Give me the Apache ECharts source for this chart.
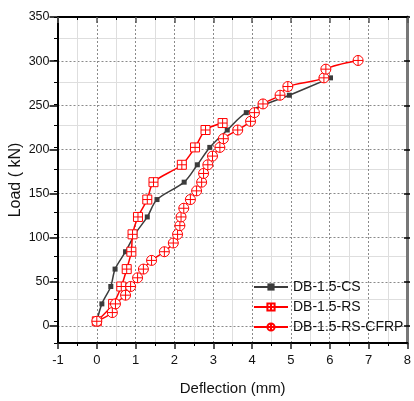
<!DOCTYPE html>
<html><head><meta charset="utf-8">
<script src="https://cdn.jsdelivr.net/npm/echarts@6/dist/echarts.min.js"></script>
<style>html,body{margin:0;padding:0;background:#fff}#c{width:414px;height:401px}</style>
</head><body><div id="c"></div>
<script>
var csX = [0, 0.13, 0.36, 0.47, 0.74, 0.98, 1.30, 1.55, 2.25, 2.59, 2.91, 3.36, 3.85, 4.96, 6.02];
var csY = [0, 20, 40, 60, 80, 100, 120, 140, 160, 180, 200, 220, 240, 260, 280];
var rsX = [0, 0.42, 0.63, 0.77, 0.89, 0.92, 1.06, 1.30, 1.46, 2.19, 2.53, 2.80, 3.24];
var rsY = [0, 20, 40, 60, 80, 100, 120, 140, 160, 180, 200, 220, 228];
var cfX = [0, 0.40, 0.48, 0.74, 0.87, 1.05, 1.20, 1.41, 1.74, 1.97, 2.08, 2.14, 2.17, 2.24, 2.41, 2.57, 2.70, 2.75, 2.86, 2.98, 3.17, 3.26, 3.63, 3.96, 4.06, 4.28, 4.72, 4.92, 5.85, 5.90, 6.73];
var cfY = [0, 10, 20, 30, 40, 50, 60, 70, 80, 90, 100, 110, 120, 130, 140, 150, 160, 170, 180, 190, 200, 210, 220, 230, 240, 250, 260, 270, 280, 290, 300];
var names = ['DB-1.5-CS', 'DB-1.5-RS', 'DB-1.5-RS-CFRP'];

function pairs(xs, ys) { return xs.map(function (x, i) { return [x, ys[i]]; }); }
var sqPlus = 'path://M0 0H10V10H0Z M5 0V10 M0 5H10';
var cirPlus = 'path://M0 5A5 5 0 1 1 10 5A5 5 0 1 1 0 5Z M5 0V10 M0 5H10';
var font = 'Liberation Sans';
var chart = echarts.init(document.getElementById('c'), null, {renderer: 'canvas'});
var majorGrid = {show: true, lineStyle: {color: '#8a8a8a', type: [2, 2], width: 1}};
var minorGrid = {show: true, lineStyle: {color: '#dedede', type: 'solid', width: 1}};
chart.setOption({
  animation: false,
  textStyle: {fontFamily: font},
  grid: [
    {left: 57.5, right: 4, top: 17, bottom: 52.7, containLabel: false},
    {left: 57.5, right: 4, top: 17, bottom: 75, containLabel: false}
  ],
  legend: {
    orient: 'vertical', left: 248, top: 275, itemWidth: 34, itemHeight: 9, itemGap: 6,
    textStyle: {fontSize: 14, color: '#111', fontFamily: font},
    data: names
  },
  xAxis: [{
    gridIndex: 0, type: 'value', min: -1, max: 8, interval: 1,
    name: 'Deflection (mm)', nameLocation: 'middle', nameGap: 38,
    nameTextStyle: {fontSize: 15, color: '#111', fontFamily: font},
    axisLine: {show: true, onZero: false, lineStyle: {color: '#000', width: 2}},
    axisTick: {show: true, length: 6, lineStyle: {color: '#222', width: 1.5}},
    minorTick: {show: true, splitNumber: 2, length: 3, lineStyle: {color: '#000', width: 1}},
    axisLabel: {fontSize: 13, color: '#111', margin: 11},
    splitLine: majorGrid, minorSplitLine: minorGrid
  }, {
    gridIndex: 0, type: 'value', min: -1, max: 8, interval: 1, position: 'top',
    axisLine: {show: true, onZero: false, lineStyle: {color: '#000', width: 2}},
    axisTick: {show: true, inside: true, length: 6, lineStyle: {color: '#555', width: 1.5}},
    minorTick: {show: true, splitNumber: 2, length: 3, lineStyle: {color: '#000', width: 1}},
    axisLabel: {show: false}, splitLine: {show: false}
  }, {
    gridIndex: 1, type: 'value', min: -1, max: 8, interval: 1, show: false
  }],
  yAxis: [{
    gridIndex: 0, type: 'value', min: -25, max: 350, interval: 25,
    name: 'Load ( kN)', nameLocation: 'middle', nameGap: 34,
    nameTextStyle: {fontSize: 16, color: '#111', fontFamily: font},
    axisLine: {show: true, onZero: false, lineStyle: {color: '#000', width: 2}},
    axisTick: {show: true, length: 4, lineStyle: {color: '#000', width: 1}},
    axisLabel: {show: false},
    splitLine: {show: true, lineStyle: {color: ['#dedede', 'rgba(0,0,0,0)'], type: 'solid', width: 1}}
  }, {
    gridIndex: 0, type: 'value', min: -25, max: 350, interval: 25, position: 'right',
    axisLine: {show: true, onZero: false, lineStyle: {color: '#777', width: 3}},
    axisTick: {show: false}, axisLabel: {show: false}, splitLine: {show: false}
  }, {
    gridIndex: 1, type: 'value', min: 0, max: 350, interval: 50,
    axisLine: {show: false, onZero: false},
    axisTick: {show: true, length: 8, lineStyle: {color: '#000', width: 1.5}},
    axisLabel: {fontSize: 12.5, color: '#111', margin: 8},
    splitLine: majorGrid
  }, {
    gridIndex: 1, type: 'value', min: 0, max: 350, interval: 50, position: 'right',
    axisLine: {show: false, onZero: false},
    axisTick: {show: true, inside: true, length: 6, lineStyle: {color: '#000', width: 1.5}},
    axisLabel: {show: false}, splitLine: {show: false}
  }],
  series: [{
    name: names[0], type: 'line', smooth: 0.3, data: pairs(csX, csY),
    symbol: 'rect', symbolSize: 5, showAllSymbol: true,
    lineStyle: {color: '#3c3c3c', width: 1.5},
    itemStyle: {color: '#3c3c3c', borderWidth: 0}
  }, {
    name: names[1], type: 'line', smooth: 0.3, data: pairs(rsX, rsY),
    symbol: sqPlus, symbolSize: 9, showAllSymbol: true,
    lineStyle: {color: '#ff0000', width: 1.5},
    itemStyle: {color: '#ffffff', borderColor: '#ff0000', borderWidth: 1}
  }, {
    name: names[2], type: 'line', smooth: 0.3, data: pairs(cfX, cfY),
    symbol: cirPlus, symbolSize: 10, showAllSymbol: true,
    lineStyle: {color: '#ff0000', width: 1.5},
    itemStyle: {color: '#ffffff', borderColor: '#ff0000', borderWidth: 1}
  }]
});
</script></body></html>
